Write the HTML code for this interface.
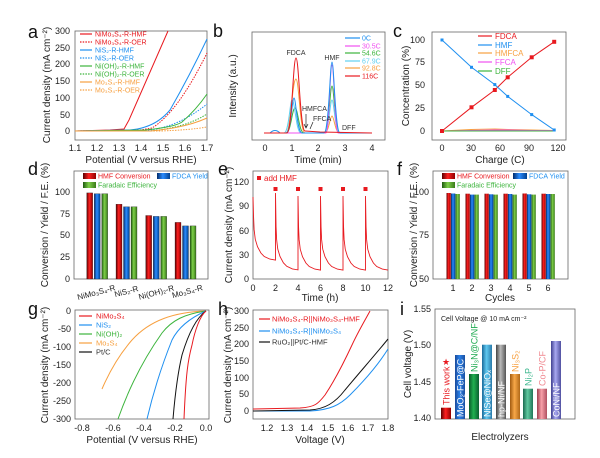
<!DOCTYPE html>
<html><head><meta charset="utf-8"><style>
html,body{margin:0;padding:0;background:#fff}
svg{display:block;font-family:"Liberation Sans",Arial,sans-serif}
.t{font-size:9px;fill:#222}
.al{font-size:10px;fill:#222}
.lt{font-size:18px;fill:#111}
.lg{font-size:7px}
.bx{fill:none;stroke:#666;stroke-width:0.8}
</style></head><body>
<svg width="600" height="458" viewBox="0 0 600 458" xmlns="http://www.w3.org/2000/svg">
<defs>
<linearGradient id="gr" x1="0" x2="1"><stop offset="0" stop-color="#5a0000"/><stop offset="0.45" stop-color="#ff2020"/><stop offset="1" stop-color="#900000"/></linearGradient>
<linearGradient id="gb" x1="0" x2="1"><stop offset="0" stop-color="#002a6a"/><stop offset="0.45" stop-color="#2a8cff"/><stop offset="1" stop-color="#00408f"/></linearGradient>
<linearGradient id="gg" x1="0" x2="1"><stop offset="0" stop-color="#1f5a10"/><stop offset="0.45" stop-color="#7ed048"/><stop offset="1" stop-color="#3a7a1a"/></linearGradient>
<linearGradient id="gl" x1="0" x2="1"><stop offset="0" stop-color="#1a6a9a"/><stop offset="0.45" stop-color="#60c8f0"/><stop offset="1" stop-color="#2a7aaa"/></linearGradient>
<linearGradient id="gy" x1="0" x2="1"><stop offset="0" stop-color="#444"/><stop offset="0.45" stop-color="#bbb"/><stop offset="1" stop-color="#555"/></linearGradient>
<linearGradient id="go" x1="0" x2="1"><stop offset="0" stop-color="#a05a10"/><stop offset="0.45" stop-color="#f8a848"/><stop offset="1" stop-color="#b06818"/></linearGradient>
<linearGradient id="gt" x1="0" x2="1"><stop offset="0" stop-color="#1a6a50"/><stop offset="0.45" stop-color="#60c8a0"/><stop offset="1" stop-color="#207858"/></linearGradient>
<linearGradient id="gp" x1="0" x2="1"><stop offset="0" stop-color="#a04050"/><stop offset="0.45" stop-color="#f8a0a8"/><stop offset="1" stop-color="#b05060"/></linearGradient>
<linearGradient id="gv" x1="0" x2="1"><stop offset="0" stop-color="#404090"/><stop offset="0.45" stop-color="#a8a8f0"/><stop offset="1" stop-color="#5050a0"/></linearGradient>
<linearGradient id="gd" x1="0" x2="1"><stop offset="0" stop-color="#1a4a9a"/><stop offset="0.45" stop-color="#2a80e8"/><stop offset="1" stop-color="#1a50a0"/></linearGradient>
<linearGradient id="ge" x1="0" x2="1"><stop offset="0" stop-color="#0a5a2a"/><stop offset="0.45" stop-color="#20b050"/><stop offset="1" stop-color="#0a6030"/></linearGradient>
</defs>

<!-- ============ a ============ -->
<text class="lt" x="28" y="38">a</text>
<rect class="bx" x="75" y="31" width="132" height="109"/>
<g class="t" text-anchor="end">
<text x="70" y="34">300</text><text x="70" y="51">250</text><text x="70" y="67">200</text><text x="70" y="84">150</text><text x="70" y="101">100</text><text x="70" y="118">50</text><text x="70" y="134">0</text>
</g>
<g class="t" text-anchor="middle">
<text x="75" y="151">1.1</text><text x="97" y="151">1.2</text><text x="119" y="151">1.3</text><text x="141" y="151">1.4</text><text x="163" y="151">1.5</text><text x="185" y="151">1.6</text><text x="207" y="151">1.7</text>
</g>
<text class="al" text-anchor="middle" x="141" y="163">Potential (V versus RHE)</text>
<text class="al" text-anchor="middle" transform="translate(50,85) rotate(-90)">Current density (mA cm⁻²)</text>
<g fill="none" stroke-width="1">
<path d="M75,131 L110,130 L124,129 L129,120 L168,31" stroke="#e8191f"/>
<path d="M75,131 L140,130 L152,128 Q178,112 207,53" stroke="#e8191f" stroke-dasharray="1.5,1.2"/>
<path d="M75,131 L130,130 Q155,128 170,110 Q190,75 207,39" stroke="#1e8ff0"/>
<path d="M75,131 L150,130 Q180,126 207,104" stroke="#1e8ff0" stroke-dasharray="1.5,1.2"/>
<path d="M75,131 L145,130 Q175,127 182,122 Q196,110 207,94" stroke="#3cb43c"/>
<path d="M75,131 L150,131 Q185,128 207,114" stroke="#3cb43c" stroke-dasharray="1.5,1.2"/>
<path d="M75,131 L150,131 Q185,128 207,118" stroke="#f7a040"/>
<path d="M75,131 L160,131 Q190,130 207,127" stroke="#f7a040" stroke-dasharray="1.5,1.2"/>
</g>
<g stroke-width="1.2">
<line x1="80" x2="92" y1="34" y2="34" stroke="#e8191f"/>
<line x1="80" x2="92" y1="42" y2="42" stroke="#e8191f" stroke-dasharray="1.5,1.2"/>
<line x1="80" x2="92" y1="50" y2="50" stroke="#1e8ff0"/>
<line x1="80" x2="92" y1="58" y2="58" stroke="#1e8ff0" stroke-dasharray="1.5,1.2"/>
<line x1="80" x2="92" y1="66" y2="66" stroke="#3cb43c"/>
<line x1="80" x2="92" y1="74" y2="74" stroke="#3cb43c" stroke-dasharray="1.5,1.2"/>
<line x1="80" x2="92" y1="82" y2="82" stroke="#f7a040"/>
<line x1="80" x2="92" y1="90" y2="90" stroke="#f7a040" stroke-dasharray="1.5,1.2"/>
</g>
<g class="lg">
<text x="95" y="36.5" fill="#e8191f">NiMo₃S₄-R-HMF</text>
<text x="95" y="44.5" fill="#e8191f">NiMo₃S₄-R-OER</text>
<text x="95" y="52.5" fill="#1e8ff0">NiS₂-R-HMF</text>
<text x="95" y="60.5" fill="#1e8ff0">NiS₂-R-OER</text>
<text x="95" y="68.5" fill="#3cb43c">Ni(OH)₂-R-HMF</text>
<text x="95" y="76.5" fill="#3cb43c">Ni(OH)₂-R-OER</text>
<text x="95" y="84.5" fill="#f7a040">Mo₃S₄-R-HMF</text>
<text x="95" y="92.5" fill="#f7a040">Mo₃S₄-R-OER</text>
</g>

<!-- ============ b ============ -->
<text class="lt" x="213" y="37">b</text>
<rect class="bx" x="252" y="32" width="133" height="108"/>
<g class="t" text-anchor="middle">
<text x="265" y="151">0</text><text x="292" y="151">1</text><text x="318" y="151">2</text><text x="345" y="151">3</text><text x="372" y="151">4</text>
</g>
<text class="al" text-anchor="middle" x="318" y="163">Time (min)</text>
<text class="al" text-anchor="middle" transform="translate(236,86) rotate(-90)">Intensity (a.u.)</text>
<g fill="none" stroke-width="1">
<path d="M264,133 L286,133 C291,133 292,108 295,108 C298,108 299,133 304,133 L324,133 C329,133 330,86 332,86 C334,86 335,133 340,133 L372,133" stroke="#3cb43c"/>
<path d="M264,133 L286,133 C291,133 292,79 296,79 C299,79 300,133 305,133 L324,133 C329,133 330,116 332,116 C334,116 335,133 340,133 L372,133" stroke="#f7a040"/>
<path d="M264,133 L284,133 C289,133 290,100 292,100 C295,100 296,133 301,133 L324,133 C329,133 330,100 332,100 C334,100 335,133 340,133 L372,133" stroke="#60d0f0"/>
<path d="M264,133 L286,133 L326,133 C329,133 330,65 332,65 C334,65 335,133 338,133 L372,133" stroke="#f050f0"/>
<path d="M264,133 L270,133 Q275,128 280,133 L286,133 C291,133 292,98 294,98 C296,98 297,133 302,133 L324,133 C329,133 330,62 332,62 C334,62 335,133 340,133 L372,133" stroke="#1e8ff0"/>
<path d="M264,133 L287,133 C292,133 293,58 296,58 C299,58 300,131 305,131 L320,132 L372,133" stroke="#e8191f"/>
</g>
<g class="lg" fill="#333">
<text x="296" y="55" text-anchor="middle">FDCA</text>
<text x="332" y="60" text-anchor="middle">HMF</text>
<text x="302" y="111">HMFCA</text>
<text x="313" y="121">FFCA</text>
<text x="342" y="130">DFF</text>
</g>
<path d="M306,114 L306,127 M304,124 L306,128 L308,124" stroke="#222" stroke-width="0.7" fill="none"/>
<path d="M313,122 L310,129" stroke="#222" stroke-width="0.7" fill="none"/>
<g stroke-width="1.2">
<line x1="345" x2="360" y1="38" y2="38" stroke="#1e8ff0"/>
<line x1="345" x2="360" y1="46" y2="46" stroke="#f050f0"/>
<line x1="345" x2="360" y1="53" y2="53" stroke="#3cb43c"/>
<line x1="345" x2="360" y1="61" y2="61" stroke="#60d0f0"/>
<line x1="345" x2="360" y1="68" y2="68" stroke="#f7a040"/>
<line x1="345" x2="360" y1="76" y2="76" stroke="#e8191f"/>
</g>
<g class="lg">
<text x="362" y="40.5" fill="#1e8ff0">0C</text>
<text x="362" y="48.5" fill="#f050f0">30.5C</text>
<text x="362" y="55.5" fill="#3cb43c">54.6C</text>
<text x="362" y="63.5" fill="#60d0f0">67.9C</text>
<text x="362" y="70.5" fill="#f7a040">92.8C</text>
<text x="362" y="78.5" fill="#e8191f">116C</text>
</g>

<!-- ============ c ============ -->
<text class="lt" x="393" y="37">c</text>
<rect class="bx" x="432" y="32" width="134" height="108"/>
<g class="t" text-anchor="end">
<text x="425" y="43">100</text><text x="425" y="65">75</text><text x="425" y="88">50</text><text x="425" y="111">25</text><text x="425" y="134">0</text>
</g>
<g class="t" text-anchor="middle">
<text x="442" y="151">0</text><text x="471" y="151">30</text><text x="500" y="151">60</text><text x="529" y="151">90</text><text x="558" y="151">120</text>
</g>
<text class="al" text-anchor="middle" x="500" y="163">Charge (C)</text>
<text class="al" text-anchor="middle" transform="translate(409,86) rotate(-90)">Concentration (%)</text>
<g fill="none" stroke-width="1">
<polyline points="442,131 471,129.5 495,129 508,129.5 532,130 554,130.5" stroke="#f7a040"/>
<polyline points="442,131 471,130.5 495,130 508,130 532,130.5 554,130.5" stroke="#f050f0"/>
<polyline points="442,131 471,131 495,131 508,131 532,131 554,131" stroke="#3cb43c"/>
<polyline points="442,131 471.5,107.3 494.8,90 507.7,77.3 531.7,57.3 554.2,41.8" stroke="#e8191f"/>
<polyline points="442,40 471.5,67.3 494.8,84.6 507.7,96.4 531.7,114.6 554.2,130" stroke="#1e8ff0"/>
</g>
<g fill="#e8191f"><rect x="440" y="129" width="4" height="4"/><rect x="469.5" y="105.3" width="4" height="4"/><rect x="492.8" y="88" width="4" height="4"/><rect x="505.7" y="75.3" width="4" height="4"/><rect x="529.7" y="55.3" width="4" height="4"/><rect x="552.2" y="39.8" width="4" height="4"/></g>
<g fill="#1e8ff0"><rect x="440.5" y="38.5" width="3" height="3"/><rect x="470" y="65.8" width="3" height="3"/><rect x="493.3" y="83.1" width="3" height="3"/><rect x="506.2" y="94.9" width="3" height="3"/><rect x="530.2" y="113.1" width="3" height="3"/><rect x="552.7" y="128.5" width="3" height="3"/></g>
<g stroke-width="1.2">
<line x1="478" x2="492" y1="36" y2="36" stroke="#e8191f"/>
<line x1="478" x2="492" y1="45" y2="45" stroke="#1e8ff0"/>
<line x1="478" x2="492" y1="53" y2="53" stroke="#f7a040"/>
<line x1="478" x2="492" y1="62" y2="62" stroke="#f050f0"/>
<line x1="478" x2="492" y1="71" y2="71" stroke="#3cb43c"/>
</g>
<g class="lg" style="font-size:8px">
<text x="495" y="39" fill="#e8191f">FDCA</text>
<text x="495" y="48" fill="#1e8ff0">HMF</text>
<text x="495" y="56" fill="#f7a040">HMFCA</text>
<text x="495" y="65" fill="#f050f0">FFCA</text>
<text x="495" y="74" fill="#3cb43c">DFF</text>
</g>

<!-- ============ d ============ -->
<text class="lt" x="28" y="175">d</text>
<rect class="bx" x="74" y="171" width="134" height="108"/>
<g class="t" text-anchor="end">
<text x="70" y="195">100</text><text x="70" y="217">75</text><text x="70" y="238">50</text><text x="70" y="260">25</text><text x="70" y="282">0</text>
</g>
<text class="al" text-anchor="middle" transform="translate(48,225) rotate(-90)">Conversion / Yield / F.E. (%)</text>
<g stroke="#222" stroke-width="0.3">
<rect x="86.7" y="192.9" width="6" height="86.1" fill="url(#gr)"/><rect x="94.2" y="193.7" width="6" height="85.3" fill="url(#gb)"/><rect x="101.7" y="193.7" width="6" height="85.3" fill="url(#gg)"/>
<rect x="116" y="204.2" width="6" height="74.8" fill="url(#gr)"/><rect x="123.5" y="206.8" width="6" height="72.2" fill="url(#gb)"/><rect x="131" y="206.8" width="6" height="72.2" fill="url(#gg)"/>
<rect x="145.7" y="215.5" width="6" height="63.5" fill="url(#gr)"/><rect x="153.2" y="216.4" width="6" height="62.6" fill="url(#gb)"/><rect x="160.7" y="216.4" width="6" height="62.6" fill="url(#gg)"/>
<rect x="175" y="222.4" width="6" height="56.6" fill="url(#gr)"/><rect x="182.5" y="225.9" width="6" height="53.1" fill="url(#gb)"/><rect x="190" y="225.9" width="6" height="53.1" fill="url(#gg)"/>
</g>
<g class="t" style="font-size:8px" text-anchor="middle">
<text transform="translate(97,295) rotate(-15)">NiMo₃S₄-R</text>
<text transform="translate(127,294) rotate(-15)">NiS₂-R</text>
<text transform="translate(157,295) rotate(-15)">Ni(OH)₂-R</text>
<text transform="translate(188,294) rotate(-15)">Mo₃S₄-R</text>
</g>
<rect x="83" y="173" width="13" height="6" fill="url(#gr)"/><text class="lg" x="98" y="178.5" fill="#e8191f">HMF Conversion</text>
<rect x="157" y="173" width="13" height="6" fill="url(#gb)"/><text class="lg" x="172" y="178.5" fill="#1e8ff0">FDCA Yield</text>
<rect x="83" y="182" width="13" height="6" fill="url(#gg)"/><text class="lg" x="98" y="187.5" fill="#3cb43c">Faradaic Efficiency</text>

<!-- ============ e ============ -->
<text class="lt" x="218" y="175">e</text>
<rect class="bx" x="253" y="171" width="135" height="108"/>
<g class="t" text-anchor="end">
<text x="249" y="185">120</text><text x="249" y="209">90</text><text x="249" y="234">60</text><text x="249" y="258">30</text><text x="249" y="282">0</text>
</g>
<g class="t" text-anchor="middle">
<text x="253" y="291">0</text><text x="275.5" y="291">2</text><text x="298" y="291">4</text><text x="320.5" y="291">6</text><text x="343" y="291">8</text><text x="365.5" y="291">10</text><text x="388" y="291">12</text>
</g>
<text class="al" text-anchor="middle" x="320" y="301">Time (h)</text>
<text class="al" text-anchor="middle" transform="translate(232,225) rotate(-90)">Current density (mA cm⁻²)</text>
<path fill="none" stroke="#e8191f" stroke-width="0.9" d="M253,197 l0.56,20 l0.56,12.7 l1.13,9.5 l2.25,7.5 l3.4,6.3 l3.35,3.5 l5.65,2.6 l5.6,1 V193 l0.56,33.8 l0.56,12.7 l1.13,9.5 l2.25,7.5 l3.4,6.3 l3.35,3.5 l5.65,2.6 l5.6,1 V196 l0.56,31 l0.56,12.7 l1.13,9.5 l2.25,7.5 l3.4,6.3 l3.35,3.5 l5.65,2.6 l5.6,1 V196 l0.56,31 l0.56,12.7 l1.13,9.5 l2.25,7.5 l3.4,6.3 l3.35,3.5 l5.65,2.6 l5.6,1 V196 l0.56,31 l0.56,12.7 l1.13,9.5 l2.25,7.5 l3.4,6.3 l3.35,3.5 l5.65,2.6 l5.6,1 V196 l0.56,31 l0.56,12.7 l1.13,9.5 l2.25,7.5 l3.4,6.3 l3.35,3.5 l5.65,2.6 l5.6,1"/>
<g fill="#e8191f"><rect x="257" y="176" width="4" height="4"/><rect x="273.5" y="187" width="4" height="4"/><rect x="296" y="187" width="4" height="4"/><rect x="318.5" y="187" width="4" height="4"/><rect x="341" y="187" width="4" height="4"/><rect x="363.5" y="187" width="4" height="4"/></g>
<text class="lg" style="font-size:8px" x="264" y="181" fill="#e8191f">add HMF</text>

<!-- ============ f ============ -->
<text class="lt" x="397" y="175">f</text>
<rect class="bx" x="433" y="171" width="135" height="108"/>
<g class="t" text-anchor="end">
<text x="429" y="195">100</text><text x="429" y="238">75</text><text x="429" y="282">50</text>
</g>
<g class="t" text-anchor="middle">
<text x="453" y="291">1</text><text x="472" y="291">2</text><text x="491" y="291">3</text><text x="510" y="291">4</text><text x="529" y="291">5</text><text x="548" y="291">6</text>
</g>
<text class="al" text-anchor="middle" x="500" y="301">Cycles</text>
<text class="al" text-anchor="middle" transform="translate(417,225) rotate(-90)">Conversion / Yield / F.E. (%)</text>
<g>
<rect x="446.5" y="193" width="4.3" height="86" fill="url(#gr)"/><rect x="451" y="193.5" width="4.3" height="85.5" fill="url(#gb)"/><rect x="455.5" y="194" width="4.3" height="85" fill="url(#gg)"/>
<rect x="465.5" y="193.7" width="4.3" height="85.3" fill="url(#gr)"/><rect x="470" y="194.6" width="4.3" height="84.4" fill="url(#gb)"/><rect x="474.5" y="194.6" width="4.3" height="84.4" fill="url(#gg)"/>
<rect x="484.5" y="193.7" width="4.3" height="85.3" fill="url(#gr)"/><rect x="489" y="194.3" width="4.3" height="84.7" fill="url(#gb)"/><rect x="493.5" y="194.6" width="4.3" height="84.4" fill="url(#gg)"/>
<rect x="503.5" y="193.7" width="4.3" height="85.3" fill="url(#gr)"/><rect x="508" y="194" width="4.3" height="85" fill="url(#gb)"/><rect x="512.5" y="194.6" width="4.3" height="84.4" fill="url(#gg)"/>
<rect x="522.5" y="193.5" width="4.3" height="85.5" fill="url(#gr)"/><rect x="527" y="194.3" width="4.3" height="84.7" fill="url(#gb)"/><rect x="531.5" y="194.6" width="4.3" height="84.4" fill="url(#gg)"/>
<rect x="541.5" y="193.7" width="4.3" height="85.3" fill="url(#gr)"/><rect x="546" y="194" width="4.3" height="85" fill="url(#gb)"/><rect x="550.5" y="194" width="4.3" height="85" fill="url(#gg)"/>
</g>
<rect x="442" y="173" width="13" height="6" fill="url(#gr)"/><text class="lg" x="457" y="178.5" fill="#e8191f">HMF Conversion</text>
<rect x="513" y="173" width="14" height="6" fill="url(#gb)"/><text class="lg" x="529" y="178.5" fill="#1e8ff0">FDCA Yield</text>
<rect x="442" y="182" width="13" height="6" fill="url(#gg)"/><text class="lg" x="457" y="187.5" fill="#3cb43c">Faradaic Efficiency</text>

<!-- ============ g ============ -->
<text class="lt" x="28" y="315">g</text>
<rect class="bx" x="75" y="310" width="134" height="109"/>
<g class="t" text-anchor="end">
<text x="71" y="314">0</text><text x="71" y="332">-50</text><text x="71" y="350">-100</text><text x="71" y="368">-150</text><text x="71" y="386">-200</text><text x="71" y="404">-250</text><text x="71" y="422">-300</text>
</g>
<g class="t" text-anchor="middle">
<text x="82" y="431">-0.8</text><text x="113" y="431">-0.6</text><text x="144" y="431">-0.4</text><text x="175" y="431">-0.2</text><text x="206" y="431">0.0</text>
</g>
<text class="al" text-anchor="middle" x="142" y="443">Potential (V versus RHE)</text>
<text class="al" text-anchor="middle" transform="translate(48,365) rotate(-90)">Current density (mA cm⁻²)</text>
<g fill="none" stroke-width="1">
<path d="M206,311 C175,312 150,320 132,340 C118,356 108,375 102,389" stroke="#f7a040"/>
<path d="M206,311 C185,314 172,320 162,333 C145,357 130,385 118,419" stroke="#3cb43c"/>
<path d="M206,311 C190,318 178,328 172,340 C164,360 155,385 147,419" stroke="#1e8ff0"/>
<path d="M206,311 C196,318 188,335 182,355 C178,372 175,395 173,419" stroke="#111"/>
<path d="M206,311 C200,316 195,330 192,345 C188,360 186,372 184,419" stroke="#e8191f"/>
</g>
<g stroke-width="1.2">
<line x1="79" x2="92" y1="316" y2="316" stroke="#e8191f"/>
<line x1="79" x2="92" y1="325" y2="325" stroke="#1e8ff0"/>
<line x1="79" x2="92" y1="334" y2="334" stroke="#3cb43c"/>
<line x1="79" x2="92" y1="343" y2="343" stroke="#f7a040"/>
<line x1="79" x2="92" y1="352" y2="352" stroke="#111"/>
</g>
<g class="lg" style="font-size:7.5px">
<text x="96" y="318.5" fill="#e8191f">NiMo₃S₄</text>
<text x="96" y="327.5" fill="#1e8ff0">NiS₂</text>
<text x="96" y="336.5" fill="#3cb43c">Ni(OH)₂</text>
<text x="96" y="345.5" fill="#f7a040">Mo₃S₄</text>
<text x="96" y="354.5" fill="#333">Pt/C</text>
</g>

<!-- ============ h ============ -->
<text class="lt" x="218" y="315">h</text>
<rect class="bx" x="253" y="310" width="135" height="109"/>
<g class="t" text-anchor="end">
<text x="249" y="314">300</text><text x="249" y="331">250</text><text x="249" y="347">200</text><text x="249" y="364">150</text><text x="249" y="381">100</text><text x="249" y="397">50</text><text x="249" y="414">0</text>
</g>
<g class="t" text-anchor="middle">
<text x="267" y="431">1.2</text><text x="287" y="431">1.3</text><text x="307" y="431">1.4</text><text x="328" y="431">1.5</text><text x="348" y="431">1.6</text><text x="368" y="431">1.7</text><text x="388" y="431">1.8</text>
</g>
<text class="al" text-anchor="middle" x="320" y="443">Voltage (V)</text>
<text class="al" text-anchor="middle" transform="translate(231,365) rotate(-90)">Current density (mA cm⁻²)</text>
<g fill="none" stroke-width="1">
<path d="M253,411 L310,411 C330,410 340,405 350,395 C365,380 378,365 388,349" stroke="#1e8ff0"/>
<path d="M253,411 L310,410 C325,409 335,403 345,390 C360,372 375,355 388,339" stroke="#111"/>
<path d="M253,409 L300,408 C315,407 318,404 325,395 C335,380 345,360 352,345 C358,332 364,322 370,311" stroke="#e8191f"/>
</g>
<g stroke-width="1.2">
<line x1="259" x2="270" y1="319" y2="319" stroke="#e8191f"/>
<line x1="259" x2="270" y1="331" y2="331" stroke="#1e8ff0"/>
<line x1="259" x2="270" y1="342" y2="342" stroke="#111"/>
</g>
<g class="lg" style="font-size:7.5px">
<text x="272" y="321.5" fill="#e8191f">NiMo₃S₄-R||NiMo₃S₄-HMF</text>
<text x="272" y="333.5" fill="#1e8ff0">NiMo₃S₄-R||NiMo₃S₄</text>
<text x="272" y="344.5" fill="#333">RuO₂||Pt/C-HMF</text>
</g>

<!-- ============ i ============ -->
<text class="lt" x="400" y="315">i</text>
<rect class="bx" x="435" y="309" width="140" height="110"/>
<g class="t" text-anchor="end">
<text x="431" y="312">1.55</text><text x="431" y="348">1.50</text><text x="431" y="385">1.45</text><text x="431" y="421">1.40</text>
</g>
<text class="al" text-anchor="middle" x="500" y="440">Electrolyzers</text>
<text class="al" text-anchor="middle" transform="translate(411,364) rotate(-90)">Cell voltage (V)</text>
<text class="lg" x="441" y="321" fill="#222">Cell Voltage @ 10 mA cm⁻²</text>
<g>
<rect x="441" y="407.7" width="10" height="11.3" fill="url(#gr)"/>
<rect x="455" y="355" width="10" height="64" fill="url(#gd)"/>
<rect x="469" y="374" width="10" height="45" fill="url(#ge)"/>
<rect x="482" y="344.7" width="10" height="74.3" fill="url(#gl)"/>
<rect x="496" y="344.7" width="10" height="74.3" fill="url(#gy)"/>
<rect x="510" y="374" width="10" height="45" fill="url(#go)"/>
<rect x="523" y="388.7" width="10" height="30.3" fill="url(#gt)"/>
<rect x="537" y="388.7" width="10" height="30.3" fill="url(#gp)"/>
<rect x="551" y="341" width="10" height="78" fill="url(#gv)"/>
</g>
<text x="446" y="365" text-anchor="middle" fill="#e8191f" style="font-size:9px">★</text>
<g style="font-size:9px">
<text transform="translate(449.5,405) rotate(-90)" fill="#e8191f">This work</text>
<text transform="translate(463.5,417) rotate(-90)" fill="#fff">MoO₂-FeP@C</text>
<text transform="translate(477.5,372) rotate(-90)" fill="#1faa50">Ni₃N@C/NF</text>
<text transform="translate(490.5,417) rotate(-90)" fill="#fff">NiSe@NiOₓ</text>
<text transform="translate(504.5,417) rotate(-90)" fill="#fff">hp-Ni/NF</text>
<text transform="translate(518.5,372) rotate(-90)" fill="#f7a040">Ni₃S₂</text>
<text transform="translate(531.5,386) rotate(-90)" fill="#40b890">Ni₂P</text>
<text transform="translate(545.5,386) rotate(-90)" fill="#f08890">Co-P/CF</text>
<text transform="translate(559.5,417) rotate(-90)" fill="#fff">CoNi/NF</text>
</g>
</svg>
</body></html>
